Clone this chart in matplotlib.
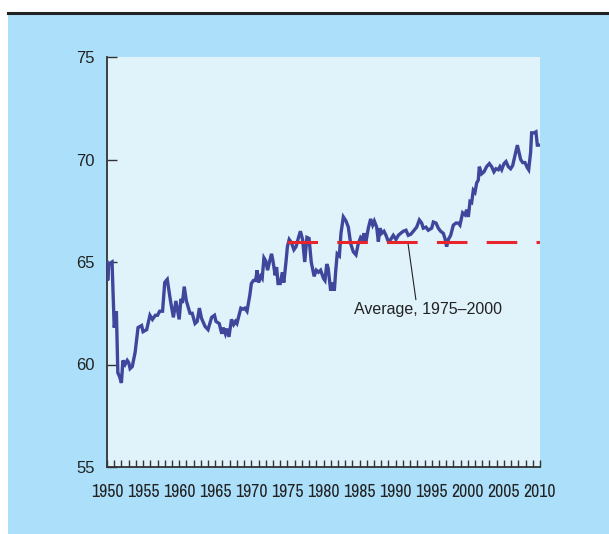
import matplotlib
matplotlib.use("Agg")
import matplotlib.pyplot as plt
from matplotlib.patches import Rectangle
from matplotlib.lines import Line2D

# ---- data ----
years = [
    1950.0, 1950.1, 1950.25, 1950.7, 1951.0, 1951.3, 1951.5, 1951.75, 1952.0, 1952.2,
    1952.5, 1952.8, 1953.0, 1953.2, 1953.5, 1953.9, 1954.1, 1954.3, 1954.8, 1955.0,
    1955.5, 1955.95, 1956.3, 1956.7, 1957.0, 1957.3, 1957.7, 1958.0, 1958.35, 1958.8,
    1959.2, 1959.55, 1960.0, 1960.25, 1960.45, 1960.7, 1961.0, 1961.5, 1961.8, 1962.2,
    1962.5, 1962.8, 1963.1, 1963.6, 1964.0, 1964.5, 1964.9, 1965.1, 1965.55, 1965.9,
    1966.1, 1966.4, 1966.6, 1966.9, 1967.25, 1967.55, 1967.8, 1968.0, 1968.55, 1968.85,
    1969.1, 1969.4, 1969.8, 1970.0, 1970.3, 1970.6, 1970.8, 1971.0, 1971.3, 1971.5,
    1971.75, 1972.0, 1972.25, 1972.55, 1972.8, 1973.0, 1973.3, 1973.5, 1973.7, 1974.0,
    1974.3, 1974.5, 1974.8, 1975.0, 1975.25, 1975.55, 1975.9, 1976.2, 1976.5, 1976.8,
    1977.1, 1977.4, 1977.7, 1978.0, 1978.3, 1978.7, 1979.0, 1979.3, 1979.6, 1980.0,
    1980.2, 1980.45, 1980.65, 1980.99, 1981.26, 1981.5, 1981.7, 1981.9, 1982.2, 1982.42,
    1982.75, 1983.12, 1983.44, 1983.76, 1984.13, 1984.5, 1984.82, 1985.15, 1985.42, 1985.61,
    1985.89, 1986.21, 1986.53, 1986.81, 1987.04, 1987.37, 1987.6, 1987.83, 1988.06, 1988.38,
    1988.66, 1988.98, 1989.31, 1989.67, 1990.04, 1990.37, 1990.69, 1991.06, 1991.43, 1991.75,
    1992.08, 1992.45, 1992.91, 1993.28, 1993.6, 1993.83, 1994.2, 1994.52, 1994.99, 1995.22,
    1995.59, 1995.91, 1996.23, 1996.6, 1996.83, 1997.06, 1997.3, 1997.62, 1997.99, 1998.36,
    1998.68, 1998.91, 1999.28, 1999.6, 1999.84, 2000.07, 2000.3, 2000.53, 2000.76, 2000.99,
    2001.22, 2001.45, 2001.59, 2001.91, 2002.24, 2002.6, 2002.98, 2003.3, 2003.62, 2003.9,
    2004.22, 2004.45, 2004.69, 2005.01, 2005.29, 2005.61, 2005.93, 2006.21, 2006.53, 2006.86,
    2007.13, 2007.32, 2007.6, 2007.92, 2008.24, 2008.43, 2008.7, 2008.84, 2009.17, 2009.44,
    2009.63, 2009.9,
]
values = [
    65.0, 64.1, 64.9, 65.0, 61.8, 62.6, 59.6, 59.4, 59.1, 60.2,
    60.0, 60.2, 60.1, 59.8, 59.9, 60.6, 61.2, 61.8, 61.9, 61.6,
    61.7, 62.4, 62.2, 62.4, 62.4, 62.6, 62.6, 64.0, 64.15, 63.1,
    62.3, 63.1, 62.2, 63.2, 63.0, 63.8, 63.1, 62.5, 62.5, 62.0,
    62.1, 62.75, 62.25, 61.85, 61.7, 62.3, 62.4, 62.1, 62.0, 61.5,
    61.8, 61.5, 61.75, 61.35, 62.2, 61.95, 62.1, 62.0, 62.75, 62.7,
    62.75, 62.6, 63.4, 63.95, 64.1, 64.1, 64.6, 64.0, 64.3, 64.2,
    65.2, 65.05, 64.6, 65.05, 65.4, 65.05, 64.35, 64.75, 63.95, 63.95,
    64.5, 64.0, 65.0, 65.75, 66.1, 65.95, 65.6, 65.75, 66.15, 66.5,
    66.1, 65.0, 66.2, 66.15, 65.0, 64.3, 64.6, 64.5, 64.6, 64.2,
    64.1, 64.9, 64.7, 63.6, 64.0, 63.6, 64.6, 65.4, 65.3, 66.4,
    67.2, 67.0, 66.7, 65.9, 65.5, 65.35, 65.9, 66.2, 66.1, 66.4,
    66.0, 66.65, 67.1, 66.8, 67.0, 66.7, 66.0, 66.65, 66.4, 66.5,
    66.3, 66.0, 66.1, 66.3, 66.1, 66.3, 66.4, 66.5, 66.55, 66.3,
    66.35, 66.5, 66.7, 67.05, 66.9, 66.65, 66.7, 66.55, 66.65, 66.95,
    66.9, 66.65, 66.5, 66.4, 66.15, 65.75, 66.1, 66.3, 66.8, 66.9,
    66.9, 66.8, 67.4, 67.3, 67.55, 67.2, 67.95, 67.9, 68.5, 68.4,
    68.85, 69.0, 69.65, 69.3, 69.4, 69.65, 69.8, 69.65, 69.4, 69.55,
    69.5, 69.65, 69.5, 69.8, 69.9, 69.65, 69.55, 69.7, 70.2, 70.7,
    70.3, 70.0, 69.85, 69.85, 69.6, 69.5, 70.35, 71.3, 71.3, 71.35,
    70.7, 70.7,
]
avg_start = 1975
avg_end = 2010
avg_value = 66.0
avg_label = "Average, 1975\u20132000"
xtick_labels = [str(y) for y in range(1950, 2011, 5)]
ytick_labels = ["55", "60", "65", "70", "75"]

# ---- styling ----
W, H = 609, 534
fig = plt.figure(figsize=(W / 100, H / 100), dpi=100)
fig.patch.set_facecolor("white")

outer_blue = "#abdffa"
inner_blue = "#e0f3fb"
line_blue = "#3e479c"
red = "#e8252b"

fig.patches.append(Rectangle((8 / W, 0), 1 - 8 / W, 1 - 15 / H, transform=fig.transFigure,
                             facecolor=outer_blue, edgecolor="none", zorder=-10))
fig.lines.append(Line2D([8 / W, 1], [1 - 13 / H, 1 - 13 / H], transform=fig.transFigure,
                        color="#222222", lw=2.2, zorder=-9))

ax = fig.add_axes([107 / W, 1 - 467 / H, (540 - 107) / W, (467 - 57) / H])
ax.set_zorder(5)
ax.set_facecolor(inner_blue)

ax.plot(years, values, color=line_blue, lw=2.4, solid_joinstyle="miter", zorder=3)
ax.plot([avg_start, avg_end], [avg_value, avg_value], color=red, lw=2.2,
        dashes=(10, 6.3), dash_capstyle="butt", zorder=4)

ax.annotate(avg_label, xy=(1991.7, 65.93), xytext=(1994.5, 62.66),
            ha="center", va="center", fontsize=11.5, family=["Liberation Sans", "DejaVu Sans"],
            color="#222222",
            arrowprops=dict(arrowstyle="-", color="#222222", lw=0.8,
                            shrinkA=0, shrinkB=0, relpos=(0.42, 1.0)))

ax.set_xlim(1950, 2010)
ax.set_ylim(55, 75)
ax.set_xticks(range(1950, 2011, 5))
ax.set_xticklabels(xtick_labels)
ax.set_xticks(range(1950, 2011), minor=True)
ax.set_yticks([55, 60, 65, 70, 75])
ax.set_yticklabels(ytick_labels)

for s in ["top", "right"]:
    ax.spines[s].set_visible(False)
for s in ["left", "bottom"]:
    ax.spines[s].set_color("#333333")
    ax.spines[s].set_linewidth(1.3)

ax.tick_params(axis="x", which="both", direction="in", length=5, width=1.0, color="#333333")
ax.tick_params(axis="x", which="major", pad=12, labelsize=12.8, labelcolor="#222222")
ax.tick_params(axis="y", which="major", direction="in", length=7, width=1.0, color="#333333",
               pad=9, labelsize=12, labelcolor="#222222")

for lab in ax.get_xticklabels():
    lab.set_family(["Liberation Sans Narrow", "Archivo Narrow", "Liberation Sans", "DejaVu Sans"])
for lab in ax.get_yticklabels():
    lab.set_family(["Liberation Sans", "DejaVu Sans"])

fig.savefig("out.png", dpi=100, facecolor=fig.get_facecolor())
